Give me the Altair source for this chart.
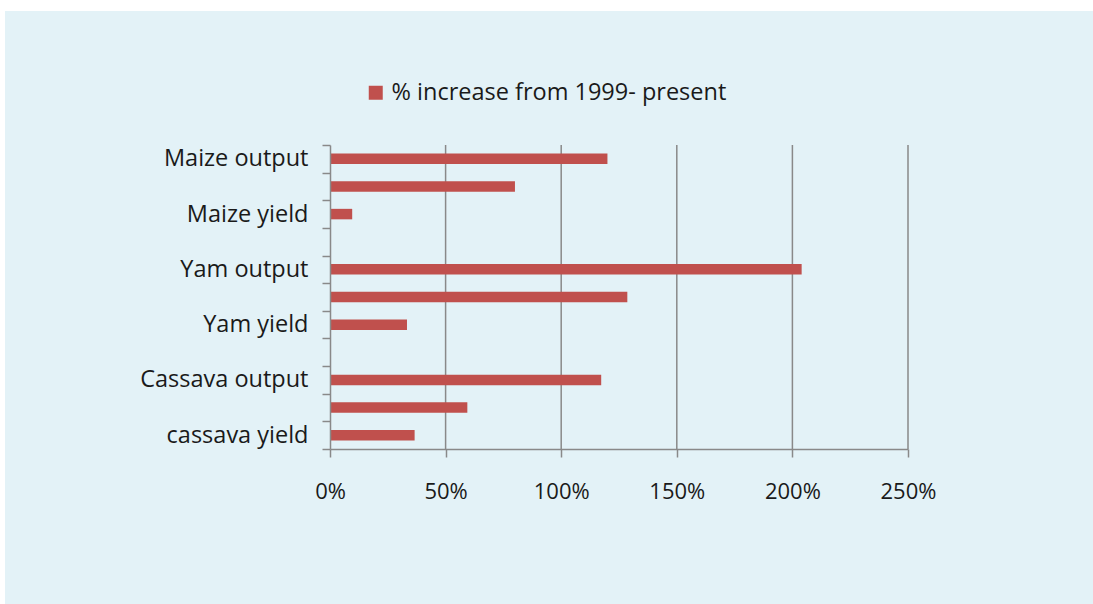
import json
import altair as alt
import pandas as pd

# Crop rows, top to bottom (two spacer rows separate the three crops)
rows = ["Maize output", "Maize area", "Maize yield", "gap_1",
        "Yam output", "Yam area", "Yam yield", "gap_2",
        "Cassava output", "Cassava area", "cassava yield"]
# Only these row names are printed on the axis
shown = ["Maize output", "Maize yield", "Yam output", "Yam yield",
         "Cassava output", "cassava yield"]

crops = ["Maize output", "Maize area", "Maize yield",
         "Yam output", "Yam area", "Yam yield",
         "Cassava output", "Cassava area", "cassava yield"]
increase = [1.20, 0.80, 0.096, 2.04, 1.286, 0.333, 1.173, 0.594, 0.366]

x_ticks = [0, 0.5, 1.0, 1.5, 2.0, 2.5]
series_name = "% increase from 1999- present"

BAR = "#C0504D"
PANEL = "#E3F2F7"
GREY = "#898989"
INK = "#1a1a1a"
FONT = "Open Sans"

W, H = 578, 304

bars_df = pd.DataFrame({"crop": crops, "value": increase, "series": series_name})
grid_df = pd.DataFrame({"tick": x_ticks[1:]})

x_scale = alt.Scale(domain=[0, 2.5], nice=False, zero=True)
y_scale = alt.Scale(domain=rows, paddingInner=0, paddingOuter=0)
x_axis = alt.Axis(values=x_ticks, format=".0%", grid=False, title=None,
                  tickSize=8, labelPadding=24, labelFlush=False, zindex=1)

# light blue panel behind everything
panel = alt.Chart(pd.DataFrame({"k": [0]})).mark_rect(color=PANEL).encode(
    x=alt.value(-325), x2=alt.value(763), y=alt.value(-134), y2=alt.value(459)
)

grid = alt.Chart(grid_df).mark_rule(color=GREY, strokeWidth=1.5).encode(
    x=alt.X("tick:Q", scale=x_scale, axis=x_axis),
    y=alt.value(0), y2=alt.value(H),
)

label_expr = "indexof(" + json.dumps(shown) + ", datum.value) < 0 ? '' : datum.value"

bars = alt.Chart(bars_df).mark_bar(size=10.5, color=BAR).encode(
    x=alt.X("value:Q", scale=x_scale, axis=x_axis),
    y=alt.Y("crop:N", scale=y_scale, sort=rows, title=None,
            axis=alt.Axis(tickBand="extent", tickSize=8, labelPadding=14,
                          labelFontSize=23.5, labelExpr=label_expr,
                          zindex=1, grid=False)),
    color=alt.Color("series:N", scale=alt.Scale(range=[BAR]), title=None,
                    legend=alt.Legend(orient="none", legendX=34, legendY=-64,
                                      symbolType="square", symbolSize=196,
                                      symbolStrokeWidth=0, labelFontSize=23.5,
                                      labelFont=FONT, labelColor=INK,
                                      labelLimit=0, labelOffset=4)),
)

chart = alt.layer(panel, grid, bars).properties(
    width=W, height=H,
    autosize=alt.AutoSizeParams(type="none"),
    padding={"left": 330, "top": 145, "right": 185, "bottom": 155},
    background="white",
).configure_view(stroke=None).configure_axis(
    domainColor=GREY, tickColor=GREY, domainWidth=1.5, tickWidth=1.5,
    labelFont=FONT, labelFontSize=22, labelColor=INK,
)

chart.save("out.html", embed_options={"renderer": "svg", "actions": False})
